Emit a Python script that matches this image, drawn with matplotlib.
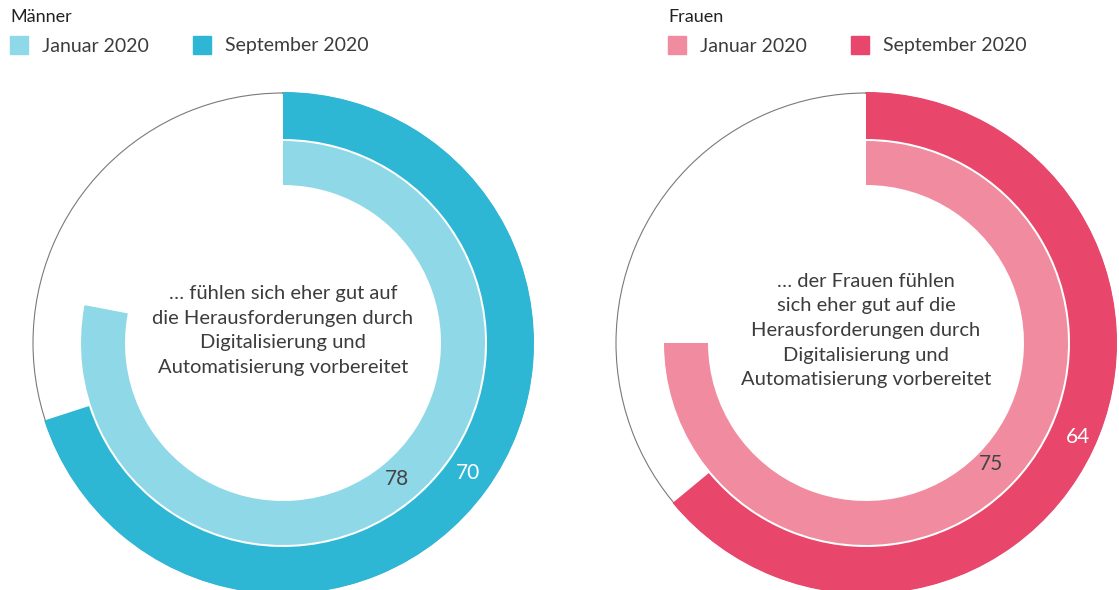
import numpy as np
import matplotlib.pyplot as plt

plt.rcParams['font.family'] = ['Lato', 'DejaVu Sans']

# data
groups = ['Männer', 'Frauen']
series = ['Januar 2020', 'September 2020']
jan_values = [78, 75]
sep_values = [70, 64]
center_texts = [
    '… fühlen sich eher gut auf\ndie Herausforderungen durch\nDigitalisierung und\nAutomatisierung vorbereitet',
    '… der Frauen fühlen\nsich eher gut auf die\nHerausforderungen durch\nDigitalisierung und\nAutomatisierung vorbereitet',
]
light_colors = ['#8fd8e8', '#f08ba0']
dark_colors = ['#2eb7d5', '#e8476b']

W, H = 1119, 590
fig = plt.figure(figsize=(W / 100, H / 100), dpi=100)

text_col = '#3c3c3c'
centers_x = [283, 866]
center_y = 343
R = 250

# label placement (angle deg clockwise from top, radius px)
jan_lab = [(140, 178), (134, 174)]
sep_lab = [(125, 226), (114, 232)]
legend_x = [10, 668]

for i in range(2):
    cx = centers_x[i]
    ax = fig.add_axes([(cx - R) / W, (H - center_y - R) / H, 2 * R / W, 2 * R / H],
                      projection='polar')
    ax.set_theta_zero_location('N')
    ax.set_theta_direction(-1)
    ax.set_ylim(0, R)
    ax.set_xticks([])
    ax.set_yticks([])
    ax.grid(False)
    ax.patch.set_alpha(0)
    ax.spines['polar'].set_color('#7a7a7a')
    ax.spines['polar'].set_linewidth(0.8)
    ax.spines['polar'].set_zorder(0.5)

    jw = np.deg2rad(jan_values[i] * 3.6)
    sw = np.deg2rad(sep_values[i] * 3.6)
    ax.bar(jw / 2, 202 - 158, width=jw, bottom=158, color=light_colors[i],
           edgecolor='none', align='center', zorder=2)
    ax.bar(sw / 2, R + 1 - 204, width=sw, bottom=204, color=dark_colors[i],
           edgecolor='none', align='center', zorder=2, clip_on=False)

    a, r = jan_lab[i]
    ax.text(np.deg2rad(a), r, str(jan_values[i]), ha='center', va='center',
            fontsize=15, color='#444444', zorder=3)
    a, r = sep_lab[i]
    ax.text(np.deg2rad(a), r, str(sep_values[i]), ha='center', va='center',
            fontsize=15, color='white', zorder=3)

    ax.annotate(center_texts[i], xy=(0, 0), xytext=(0, 9), textcoords='offset points',
                ha='center', va='center', fontsize=14.5, color=text_col,
                linespacing=1.55)

    # legend
    lx = legend_x[i]
    fig.text(lx / W, 1 - 17 / H, groups[i], fontsize=13, color='#222222',
             ha='left', va='center')
    for k, (lab, col) in enumerate(zip(series, [light_colors[i], dark_colors[i]])):
        sx = lx + k * 183
        fig.patches.append(plt.Rectangle((sx / W, 1 - 54 / H), 18 / W, 18 / H,
                                         transform=fig.transFigure,
                                         color=col, figure=fig))
        fig.text((sx + 32) / W, 1 - 46 / H, lab, fontsize=14, color=text_col,
                 ha='left', va='center')

fig.savefig('out.png', dpi=100)
